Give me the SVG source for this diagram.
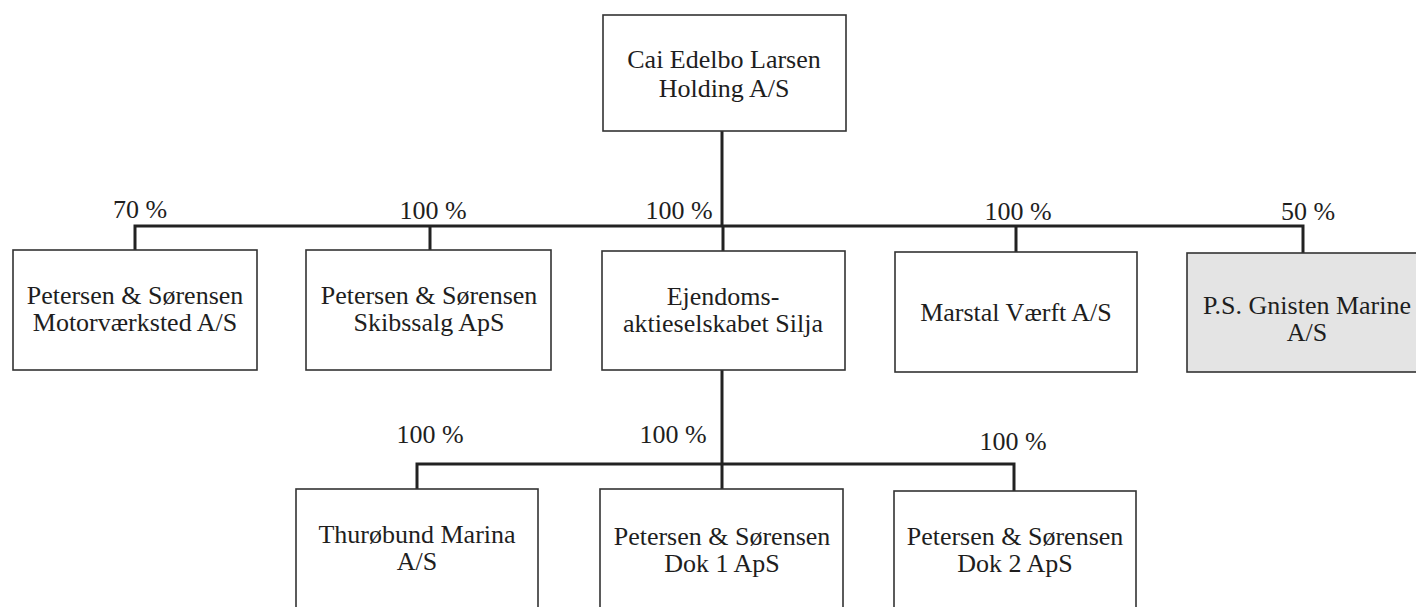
<svg xmlns="http://www.w3.org/2000/svg" width="1416" height="607" viewBox="0 0 1416 607">
<style>
.box{fill:#fff;stroke:#333;stroke-width:1.6}
.gray{fill:#e4e4e4}
.t{font-family:"Liberation Serif","Times New Roman",serif;font-size:26px;fill:#1e1e1e;text-anchor:middle}
.c{fill:none;stroke:#222;stroke-width:3}
</style>
<rect width="1416" height="607" fill="#fff"/>
<g id="connectors">
<path class="c" d="M722 131V226M135 250V226H1303V253M430 226V250M723 226V251M1016 226V252"/>
<path class="c" d="M722 370V464M417 489V464H1014V491M722 464V489"/>
<text class="t" x="140" y="218">70 %</text>
<text class="t" x="433" y="219">100 %</text>
<text class="t" x="679" y="219">100 %</text>
<text class="t" x="1018" y="220">100 %</text>
<text class="t" x="1308" y="220">50 %</text>
<text class="t" x="430" y="443">100 %</text>
<text class="t" x="673" y="443">100 %</text>
<text class="t" x="1013" y="450">100 %</text>
</g>
<g id="holding">
<rect class="box" x="603" y="15" width="243" height="116"/>
<text class="t" x="724" y="68">Cai Edelbo Larsen</text>
<text class="t" x="724" y="97">Holding A/S</text>
</g>
<g id="motor">
<rect class="box" x="13" y="250" width="244" height="120"/>
<text class="t" x="135" y="304">Petersen &amp; Sørensen</text>
<text class="t" x="135" y="331">Motorværksted A/S</text>
</g>
<g id="skibssalg">
<rect class="box" x="306" y="250" width="245" height="120"/>
<text class="t" x="429" y="304">Petersen &amp; Sørensen</text>
<text class="t" x="429" y="331">Skibssalg ApS</text>
</g>
<g id="silja">
<rect class="box" x="602" y="251" width="243" height="119"/>
<text class="t" x="723" y="305">Ejendoms-</text>
<text class="t" x="723" y="332">aktieselskabet Silja</text>
</g>
<g id="marstal">
<rect class="box" x="895" y="252" width="242" height="120"/>
<text class="t" x="1016" y="321">Marstal Værft A/S</text>
</g>
<g id="gnisten">
<rect class="box gray" x="1187" y="253" width="240" height="119"/>
<text class="t" x="1307" y="314">P.S. Gnisten Marine</text>
<text class="t" x="1307" y="341">A/S</text>
</g>
<g id="thuroebund">
<rect class="box" x="296" y="489" width="242" height="125"/>
<text class="t" x="417" y="543">Thurøbund Marina</text>
<text class="t" x="417" y="570">A/S</text>
</g>
<g id="dok1">
<rect class="box" x="600" y="489" width="243" height="125"/>
<text class="t" x="722" y="545">Petersen &amp; Sørensen</text>
<text class="t" x="722" y="572">Dok 1 ApS</text>
</g>
<g id="dok2">
<rect class="box" x="894" y="491" width="242" height="125"/>
<text class="t" x="1015" y="545">Petersen &amp; Sørensen</text>
<text class="t" x="1015" y="572">Dok 2 ApS</text>
</g>
</svg>
